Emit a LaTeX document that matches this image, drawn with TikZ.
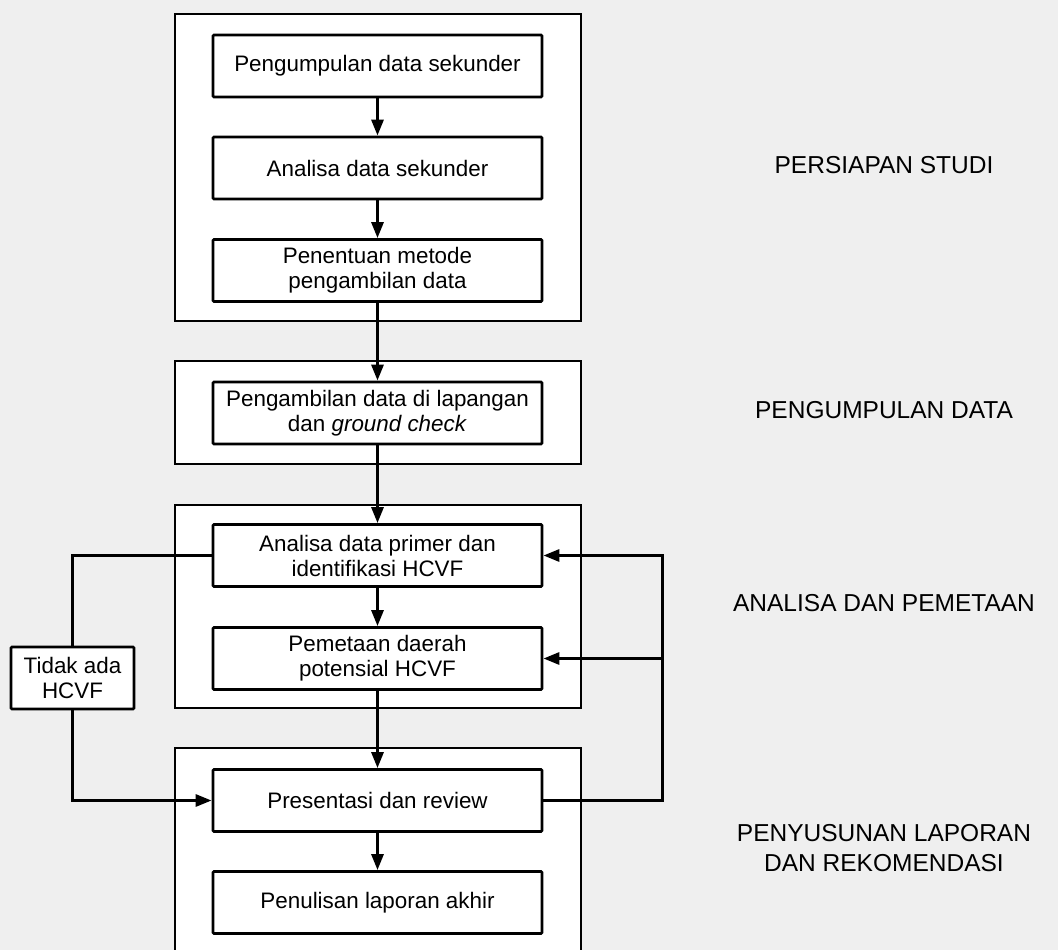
\documentclass[tikz,border=0pt]{standalone}
\usepackage{fontspec}
\setmainfont{Liberation Sans}
\usetikzlibrary{arrows.meta}
\definecolor{bg}{RGB}{239,239,239}
\begin{document}
\begin{tikzpicture}[x=1pt,y=-1pt,
  grp/.style={draw=black, fill=white, line width=2.5pt, inner sep=0pt},
  box/.style={draw=black, fill=white, line width=2.8pt, minimum width=329pt, minimum height=62pt, inner sep=0pt, align=center, font=\fontsize{22.4}{25}\selectfont, rounded corners=1pt},
  conn/.style={line width=3pt, -{Triangle[length=16pt,width=12pt]}},
  plain/.style={line width=3pt},
  lab/.style={align=center, font=\fontsize{24.5}{30}\selectfont}]
\fill[bg] (0,0) rectangle (1058,950);
\useasboundingbox (0,0) rectangle (1058,950);

% group frames
\node[grp, minimum width=406pt, minimum height=307pt] (g1) at (378,167.5) {};
\node[grp, minimum width=406pt, minimum height=103pt] (g2) at (378,412.5) {};
\node[grp, minimum width=406pt, minimum height=203pt] (g3) at (378,606.5) {};
\fill[white] (175,748) rectangle (581,955);
\draw[line width=2.5pt] (175,955) -- (175,748) -- (581,748) -- (581,955);

% process boxes
\node[box] (b1) at (377.5,66) {Pengumpulan data sekunder};
\node[box] (b2) at (377.5,168) {Analisa data sekunder};
\node[box] (b3) at (377.5,270.5) {Penentuan metode\\pengambilan data};
\node[box] (b4) at (377.5,413) {Pengambilan data di lapangan\\dan \textit{ground check}};
\node[box] (b5) at (377.5,555.5) {Analisa data primer dan\\identifikasi HCVF};
\node[box] (b6) at (377.5,658.5) {Pemetaan daerah\\potensial HCVF};
\node[box] (b7) at (377.5,800.5) {Presentasi dan review};
\node[box] (b8) at (377.5,902.5) {Penulisan laporan akhir};
\node[box, minimum width=123pt] (td) at (72.5,678) {Tidak ada\\HCVF};

% stage labels
\node[lab] (l1) at (884,165) {PERSIAPAN STUDI};
\node[lab] (l2) at (884,410) {PENGUMPULAN DATA};
\node[lab] (l3) at (884,603) {ANALISA DAN PEMETAAN};
\node[lab] (l4) at (884,848) {PENYUSUNAN LAPORAN\\DAN REKOMENDASI};

% connectors
\draw[conn] (b1) -- (b2);
\draw[conn] (b2) -- (b3);
\draw[conn] (b3) -- (b4);
\draw[conn] (b4) -- (b5);
\draw[conn] (b5) -- (b6);
\draw[conn] (b6) -- (b7);
\draw[conn] (b7) -- (b8);

\draw[plain] (b5.west) -| (td.north);
\draw[conn] (td.south) |- (b7.west);

\coordinate (rb) at (662,800.5);
\coordinate (rt) at (662,555.5);
\coordinate (rm) at (662,658.5);
\draw[conn] (b7.east) -- (rb) -- (rt) -- (b5.east);
\draw[conn] (rm) -- (b6.east);
\end{tikzpicture}
\end{document}
